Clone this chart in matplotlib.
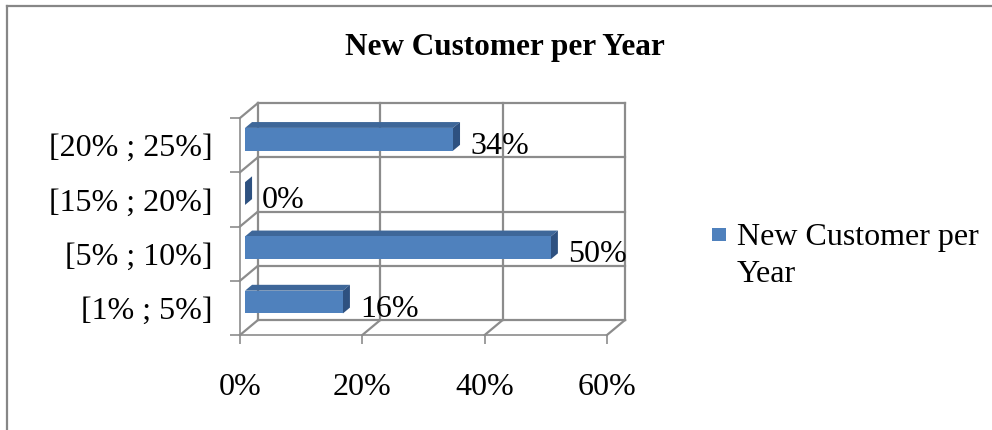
import matplotlib
matplotlib.use("Agg")
import matplotlib.pyplot as plt
from matplotlib.patches import Polygon, Rectangle
from matplotlib.lines import Line2D

plt.rcParams["font.family"] = ["Liberation Serif", "DejaVu Serif"]

categories = ["[1% ; 5%]", "[5% ; 10%]", "[15% ; 20%]", "[20% ; 25%]"]
values = [16, 50, 0, 34]
x_ticks = [0, 20, 40, 60]
x_tick_labels = ["0%", "20%", "40%", "60%"]
series_name = "New Customer per\nYear"
title = "New Customer per Year"

FRONT = "#4F81BD"
TOP = "#3E6799"
SIDE = "#2E5180"
GRID = "#8C8C8C"

W, H = 992, 430
fig = plt.figure(figsize=(W / 100, H / 100), dpi=100)
ax = fig.add_axes([240 / W, 95 / H, 367 / W, 217 / H])
ax.set_xlim(0, 60)
ax.set_ylim(0, len(categories))

# 3D depth offset of the back wall, in pixels
DX, DY = 18, 15
kx = 60 / ax.bbox.width
ky = len(categories) / ax.bbox.height


def shift(x, y, d):
    return (x + d * DX * kx, y + d * DY * ky)


def line3d(pts, **kw):
    xs, ys = zip(*[shift(*p) for p in pts])
    ax.add_line(Line2D(xs, ys, color=GRID, lw=1.6, clip_on=False, zorder=1, **kw))


# back wall grid
for xv in x_ticks:
    line3d([(xv, 0, 1), (xv, len(categories), 1)])
for k in range(len(categories) + 1):
    line3d([(0, k, 1), (60, k, 1)])
    # left side wall
    line3d([(0, k, 0), (0, k, 1)])
# floor
for xv in x_ticks[1:]:
    line3d([(xv, 0, 0), (xv, 0, 1)])

# bars with front, top and side faces
d0, d1 = 0.28, 0.67
bh = 0.42
for i, v in enumerate(values):
    y0 = i + 0.53 - bh / 2
    y1 = y0 + bh
    front = [shift(0, y0, d0), shift(v, y0, d0), shift(v, y1, d0), shift(0, y1, d0)]
    top = [shift(0, y1, d0), shift(v, y1, d0), shift(v, y1, d1), shift(0, y1, d1)]
    side = [shift(v, y0, d0), shift(v, y1, d0), shift(v, y1, d1), shift(v, y0, d1)]
    for pts, c in ((top, TOP), (side, SIDE), (front, FRONT)):
        ax.add_patch(Polygon(pts, closed=True, facecolor=c, edgecolor="none",
                             clip_on=False, zorder=3))
    lx, ly = shift(v, i + 0.53, d0)
    ax.annotate(f"{v}%", xy=(lx, ly), xytext=(17, -7), textcoords="offset pixels",
                ha="left", va="center", fontsize=23, color="black", zorder=4)

# front axes lines and ticks
for s in ("top", "right"):
    ax.spines[s].set_visible(False)
for s in ("left", "bottom"):
    ax.spines[s].set_color(GRID)
    ax.spines[s].set_linewidth(1.2)
ax.set_xticks(x_ticks)
ax.set_xticklabels(x_tick_labels, fontsize=23)
ax.set_yticks(range(len(categories) + 1))
ax.set_yticklabels([])
ax.set_yticks([k + 0.5 for k in range(len(categories))], minor=True)
ax.set_yticklabels(categories, minor=True, fontsize=23)
ax.tick_params(axis="x", length=6.5, width=1.2, color=GRID, pad=21)
ax.tick_params(axis="y", which="major", length=7, width=1.2, color=GRID)
ax.tick_params(axis="y", which="minor", length=0, pad=20)
ax.patch.set_visible(False)

# title
fig.text(505 / W, 1 - 48 / H, title, ha="center", va="center",
         fontsize=22.5, fontweight="bold")

# legend
fig.patches.append(Rectangle((712 / W, 1 - 241 / H), 14 / W, 13 / H,
                             transform=fig.transFigure, facecolor=FRONT,
                             edgecolor="none"))
fig.text(737 / W, 1 - 282 / H, series_name, ha="left", va="baseline",
         fontsize=23, linespacing=1.36)

# outer chart frame
fig.add_artist(Line2D([7 / W, 7 / W], [0, 1 - 6 / H], color="#878787", lw=1.6,
                      transform=fig.transFigure))
fig.add_artist(Line2D([7 / W, 1], [1 - 6 / H, 1 - 6 / H], color="#878787", lw=1.6,
                      transform=fig.transFigure))

fig.savefig("out.png", dpi=100, facecolor="white")
